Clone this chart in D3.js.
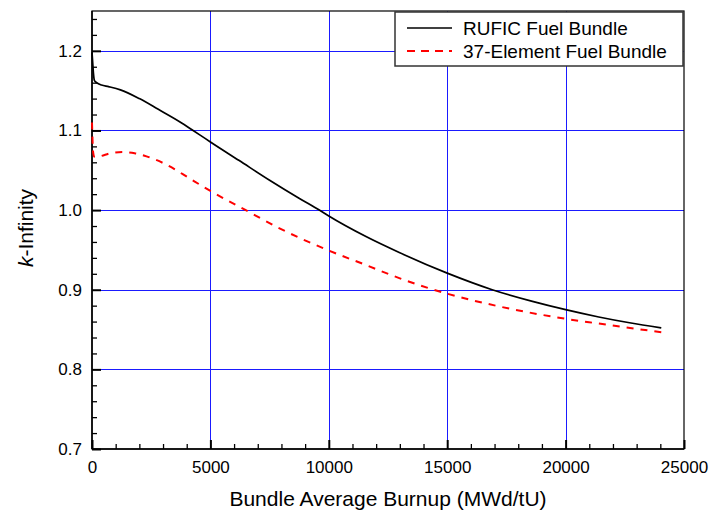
<!DOCTYPE html>
<html>
<head>
<meta charset="utf-8">
<script src="https://cdn.jsdelivr.net/npm/d3@7"></script>
<style>
  html, body { margin: 0; padding: 0; background: #fff; }
  svg { display: block; font-family: "Liberation Sans", Arial, sans-serif; }
</style>
</head>
<body>
<svg id="chart" width="709" height="516"></svg>
<script>
// Bundle average burnup (MWd/tU) and k-infinity for each bundle design
const rufic_burnup = [0, 30, 60, 100, 200, 400, 700, 1200, 2000, 2800, 3700, 4270, 4550, 5000, 6200, 7500, 8760, 9600, 10000, 11570, 12975, 15000, 16900, 18600, 20000, 21400, 22700, 24040];
const rufic_k      = [1.198, 1.185, 1.172, 1.163, 1.160, 1.157, 1.155, 1.151, 1.140, 1.1265, 1.111, 1.100, 1.0945, 1.0855, 1.0625, 1.0375, 1.0146, 1.000, 0.9925, 0.9667, 0.9467, 0.9208, 0.900, 0.8854, 0.875, 0.8658, 0.8585, 0.852];

const elem37_burnup = [0, 20, 50, 100, 200, 400, 800, 1300, 1800, 2300, 3150, 4130, 4550, 5000, 6515, 7920, 10000, 11570, 12975, 15000, 17200, 20000, 21400, 24040];
const elem37_k      = [1.110, 1.090, 1.072, 1.067, 1.0665, 1.068, 1.0715, 1.0728, 1.0715, 1.0675, 1.057, 1.0396, 1.032, 1.024, 0.9995, 0.9771, 0.9492, 0.931, 0.9146, 0.895, 0.879, 0.8635, 0.8575, 0.8466];

const seriesNames = ["RUFIC Fuel Bundle", "37-Element Fuel Bundle"];
const xTicks = [0, 5000, 10000, 15000, 20000, 25000];
const yTicks = [0.7, 0.8, 0.9, 1.0, 1.1, 1.2];
const xLabel = "Bundle Average Burnup (MWd/tU)";

const svg = d3.select("#chart");
const W = 709, H = 516;
const m = { left: 92, right: 25, top: 11, bottom: 67 };
const iw = W - m.left - m.right, ih = H - m.top - m.bottom;

const x = d3.scaleLinear().domain([0, 25000]).range([0, iw]);
const y = d3.scaleLinear().domain([0.7, 1.25]).range([ih, 0]);

const g = svg.append("g").attr("transform", `translate(${m.left},${m.top})`);

// grid lines
const gridColor = "#1a1aff";
g.append("g").selectAll("line.vx")
  .data(xTicks.filter(d => d > 0 && d < 25000))
  .join("line")
  .attr("x1", d => Math.round(x(d)) + 0.5).attr("x2", d => Math.round(x(d)) + 0.5)
  .attr("y1", 0).attr("y2", ih)
  .attr("stroke", gridColor).attr("stroke-width", 1);
g.append("g").selectAll("line.hy")
  .data(yTicks.filter(d => d > 0.7))
  .join("line")
  .attr("x1", 0).attr("x2", iw)
  .attr("y1", d => Math.round(y(d)) + 0.5).attr("y2", d => Math.round(y(d)) + 0.5)
  .attr("stroke", gridColor).attr("stroke-width", 1);

// minor ticks (inside)
const xMinor = d3.range(0, 25001, 1000).filter(d => d % 5000 !== 0);
const yMinor = d3.range(70, 126, 2).map(d => d / 100).filter(d => Math.round(d * 100) % 10 !== 0);

g.append("g").attr("transform", `translate(0,${ih})`)
  .call(d3.axisBottom(x).tickValues(xMinor).tickSize(-5).tickFormat(""))
  .call(a => a.select(".domain").remove())
  .call(a => a.selectAll("line").attr("stroke", "#000").attr("stroke-width", 1.3));
g.append("g")
  .call(d3.axisLeft(y).tickValues(yMinor).tickSize(-5).tickFormat(""))
  .call(a => a.select(".domain").remove())
  .call(a => a.selectAll("line").attr("stroke", "#000").attr("stroke-width", 1.3));

// major ticks and labels
g.append("g").attr("transform", `translate(0,${ih})`)
  .call(d3.axisBottom(x).tickValues(xTicks).tickSize(-9).tickPadding(12).tickFormat(d3.format("d")))
  .call(a => a.select(".domain").remove())
  .call(a => a.selectAll("line").attr("stroke", "#000").attr("stroke-width", 2))
  .call(a => a.selectAll("text").attr("font-size", 17).attr("fill", "#000")
    .attr("font-family", "Liberation Sans, Arial, sans-serif"));
g.append("g")
  .call(d3.axisLeft(y).tickValues(yTicks).tickSize(-9).tickPadding(10).tickFormat(d3.format(".1f")))
  .call(a => a.select(".domain").remove())
  .call(a => a.selectAll("line").attr("stroke", "#000").attr("stroke-width", 2))
  .call(a => a.selectAll("text").attr("font-size", 17).attr("fill", "#000")
    .attr("font-family", "Liberation Sans, Arial, sans-serif"));

// plot frame
g.append("rect").attr("x", 0).attr("y", 0).attr("width", iw).attr("height", ih)
  .attr("fill", "none").attr("stroke", "#000").attr("stroke-width", 1.2);
g.append("line").attr("x1", 0).attr("x2", 0).attr("y1", 0).attr("y2", ih)
  .attr("stroke", "#000").attr("stroke-width", 1.5);
g.append("line").attr("x1", 0).attr("x2", iw).attr("y1", ih).attr("y2", ih)
  .attr("stroke", "#000").attr("stroke-width", 1.5);

// curves
const line = d3.line().x(d => x(d[0])).y(d => y(d[1])).curve(d3.curveMonotoneX);
const ruficPts = rufic_burnup.map((b, i) => [b, rufic_k[i]]);
const elemPts = elem37_burnup.map((b, i) => [b, elem37_k[i]]);

g.append("path").datum(elemPts).attr("d", line)
  .attr("fill", "none").attr("stroke", "#ff0000").attr("stroke-width", 2)
  .attr("stroke-dasharray", "7,7");
g.append("path").datum(ruficPts).attr("d", line)
  .attr("fill", "none").attr("stroke", "#000").attr("stroke-width", 1.7);

// legend
const lg = svg.append("g").attr("transform", "translate(395,12)");
lg.append("rect").attr("x", 0).attr("y", 0).attr("width", 288).attr("height", 54)
  .attr("fill", "#fff").attr("stroke", "#333").attr("stroke-width", 1.5);
const legendStyles = [
  { stroke: "#000", dash: null, width: 1.7 },
  { stroke: "#ff0000", dash: "8,6", width: 2 }
];
seriesNames.forEach((name, i) => {
  const cy = 16 + i * 23;
  lg.append("line").attr("x1", 12).attr("x2", 57).attr("y1", cy).attr("y2", cy)
    .attr("stroke", legendStyles[i].stroke).attr("stroke-width", legendStyles[i].width)
    .attr("stroke-dasharray", legendStyles[i].dash);
  lg.append("text").attr("x", 68).attr("y", cy + 6.5).attr("font-size", 19)
    .attr("fill", "#000").text(name);
});

// axis titles
svg.append("text").attr("x", m.left + iw / 2).attr("y", 506)
  .attr("text-anchor", "middle").attr("font-size", 21).attr("fill", "#000").text(xLabel);
const yt = svg.append("text")
  .attr("transform", `translate(33,${m.top + ih / 2 - 2}) rotate(-90)`)
  .attr("text-anchor", "middle").attr("font-size", 21).attr("fill", "#000");
yt.append("tspan").attr("font-style", "italic").text("k");
yt.append("tspan").text("-Infinity");
</script>
</body>
</html>
